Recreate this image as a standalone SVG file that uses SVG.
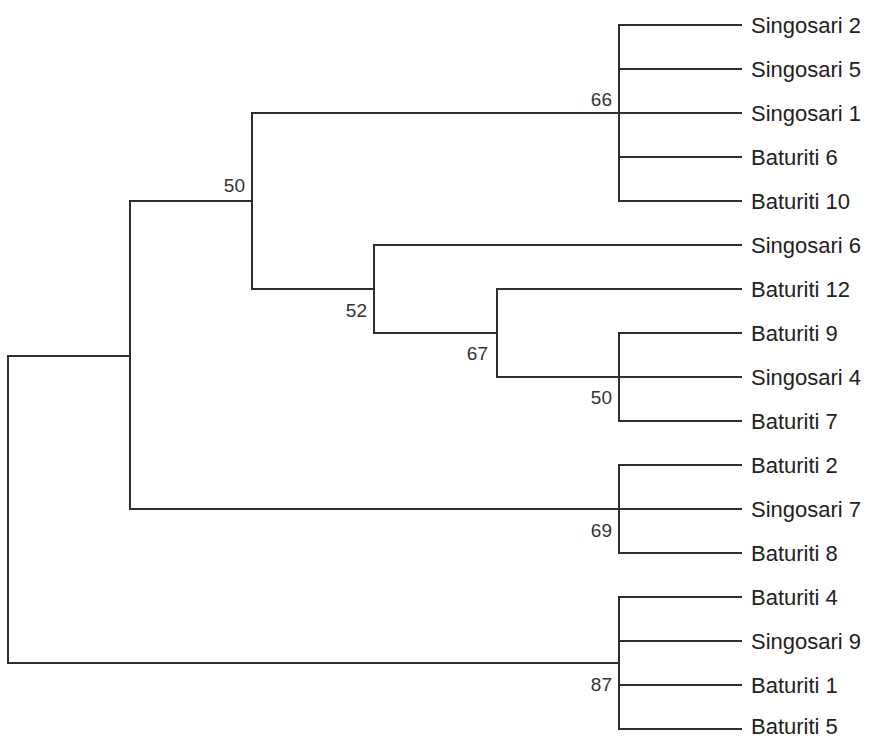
<svg xmlns="http://www.w3.org/2000/svg" width="872" height="739" viewBox="0 0 872 739">
<style>
.br{fill:none;stroke:#2e2e2e;stroke-width:2;stroke-linecap:square}
.leaf{font-family:"Liberation Sans",Arial,sans-serif;font-size:22px;fill:#222}
.bs{font-family:"Liberation Sans",Arial,sans-serif;font-size:19px;fill:#333;text-anchor:end}
</style>
<rect width="872" height="739" fill="#fff"/>
<g id="connectors">
<path class="br" d="M8,356V663M8,356H130M8,663H619"/>
<path class="br" d="M130,201V509M130,201H252M130,509H619"/>
<path class="br" d="M252,113V289M252,113H619M252,289H374"/>
<path class="br" d="M374,245V333M374,245H741M374,333H497"/>
<path class="br" d="M497,289V377M497,289H741M497,377H741"/>
<path class="br" d="M619,25V201M619,25H741M619,69H741M619,113H741M619,157H741M619,201H741"/>
<path class="br" d="M619,333V421M619,333H741M619,421H741"/>
<path class="br" d="M619,465V553M619,465H741M619,509H741M619,553H741"/>
<path class="br" d="M619,597V729M619,597H741M619,641H741M619,685H741M619,729H741"/>
</g>
<g id="leaves">
<text id="leaf-singosari2" class="leaf" x="751" y="33">Singosari 2</text>
<text id="leaf-singosari5" class="leaf" x="751" y="77">Singosari 5</text>
<text id="leaf-singosari1" class="leaf" x="751" y="121">Singosari 1</text>
<text id="leaf-baturiti6" class="leaf" x="751" y="165">Baturiti 6</text>
<text id="leaf-baturiti10" class="leaf" x="751" y="209">Baturiti 10</text>
<text id="leaf-singosari6" class="leaf" x="751" y="253">Singosari 6</text>
<text id="leaf-baturiti12" class="leaf" x="751" y="297">Baturiti 12</text>
<text id="leaf-baturiti9" class="leaf" x="751" y="341">Baturiti 9</text>
<text id="leaf-singosari4" class="leaf" x="751" y="385">Singosari 4</text>
<text id="leaf-baturiti7" class="leaf" x="751" y="429">Baturiti 7</text>
<text id="leaf-baturiti2" class="leaf" x="751" y="473">Baturiti 2</text>
<text id="leaf-singosari7" class="leaf" x="751" y="517">Singosari 7</text>
<text id="leaf-baturiti8" class="leaf" x="751" y="561">Baturiti 8</text>
<text id="leaf-baturiti4" class="leaf" x="751" y="605">Baturiti 4</text>
<text id="leaf-singosari9" class="leaf" x="751" y="649">Singosari 9</text>
<text id="leaf-baturiti1" class="leaf" x="751" y="693">Baturiti 1</text>
<text id="leaf-baturiti5" class="leaf" x="751" y="734">Baturiti 5</text>
</g>
<g id="bootstrap">
<text id="bs-66" class="bs" x="612" y="106">66</text>
<text id="bs-50a" class="bs" x="245" y="192">50</text>
<text id="bs-52" class="bs" x="367" y="317">52</text>
<text id="bs-67" class="bs" x="488" y="360">67</text>
<text id="bs-50b" class="bs" x="612" y="404">50</text>
<text id="bs-69" class="bs" x="612" y="537">69</text>
<text id="bs-87" class="bs" x="612" y="691">87</text>
</g>
</svg>
